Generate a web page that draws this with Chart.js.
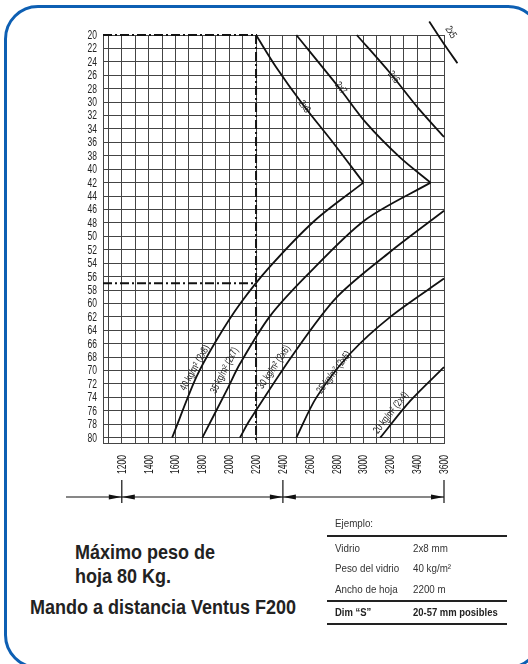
<!DOCTYPE html>
<html>
<head>
<meta charset="utf-8">
<script src="https://cdn.jsdelivr.net/npm/chart.js@4.4.0/dist/chart.umd.min.js"></script>
<style>
html,body{margin:0;padding:0;background:#fff;}
body{width:528px;height:664px;position:relative;overflow:hidden;font-family:'Liberation Sans',Arial,sans-serif;color:#222;}
#frame{position:absolute;left:4px;top:5px;width:538px;height:664px;border:3px solid #0d5fb3;border-radius:34px;box-sizing:border-box;}
#wrap{position:absolute;left:0;top:0;width:528px;height:520px;}
.big{position:absolute;font-weight:bold;font-size:20px;line-height:24px;white-space:nowrap;transform:scaleX(0.9);transform-origin:0 0;}
.cell{position:absolute;font-size:11px;color:#333;white-space:nowrap;line-height:14px;transform:scaleX(0.89);transform-origin:0 0;}
.rule{position:absolute;left:327px;width:180px;height:2px;background:#222;}
</style>
</head>
<body>
<div id="frame"></div>
<div id="wrap"><canvas id="chart"></canvas></div>

<div class="big" style="left:75px;top:540px;">Máximo peso de<br>hoja 80 Kg.</div>
<div class="big" style="left:30px;top:595px;">Mando a distancia Ventus F200</div>

<div class="cell" style="left:335px;top:516px;">Ejemplo:</div>
<div class="rule" style="top:535px;"></div>
<div class="cell" style="left:335px;top:541px;">Vidrio</div>
<div class="cell" style="left:413px;top:541px;">2x8 mm</div>
<div class="cell" style="left:335px;top:561px;">Peso del vidrio</div>
<div class="cell" style="left:413px;top:561px;">40 kg/m²</div>
<div class="cell" style="left:335px;top:582px;">Ancho de hoja</div>
<div class="cell" style="left:413px;top:582px;">2200 m</div>
<div class="rule" style="top:600px;"></div>
<div class="cell" style="left:335px;top:605px;font-weight:bold;color:#222;transform:scaleX(0.86);">Dim “S”</div>
<div class="cell" style="left:413px;top:605px;font-weight:bold;color:#222;transform:scaleX(0.86);">20-57 mm posibles</div>
<div class="rule" style="top:623px;"></div>

<script>
// ancho de hoja (mm) / dimension S (mm)
const xTicks = [1100,1200,1300,1400,1500,1600,1700,1800,1900,2000,2100,2200,2300,2400,2500,2600,2700,2800,2900,3000,3100,3200,3300,3400,3500,3600];
const xLabels = [1200,1400,1600,1800,2000,2200,2400,2600,2800,3000,3200,3400,3600];
const yTicks = [20,22,24,26,28,30,32,34,36,38,40,42,44,46,48,50,52,54,56,58,60,62,64,66,68,70,72,74,76,78,80];

// curvas superiores (vidrio)
const c2x8X = [2200, 2350, 2550, 2780, 3000];
const c2x8Y = [20, 24.8, 30.4, 36.2, 42];
const c2x7X = [2500, 2820, 3020, 3270, 3500];
const c2x7Y = [20, 27.9, 33.1, 38.2, 42];
const c2x6X = [2950, 3200, 3400, 3600];
const c2x6Y = [20, 25.7, 30.7, 35.2];
const c2x5X = [3490, 3595, 3700];
const c2x5Y = [18, 21.2, 24.2];

// curvas de peso
const k40X = [3000, 2640, 2300, 2080, 1905, 1755, 1575];
const k40Y = [42, 47.6, 54.6, 60.1, 65.5, 71, 80];
const k35X = [3500, 3010, 2580, 2300, 2080, 1985, 1800];
const k35Y = [42, 47.6, 55.8, 62, 69, 72.8, 80];
const k30X = [3600, 3200, 2800, 2480, 2150, 2080];
const k30Y = [46.2, 52.3, 59.1, 67.5, 77.5, 80];
const k25X = [3600, 3200, 2900, 2650, 2500];
const k25Y = [56.3, 62, 67.5, 74, 80];
const k20X = [3600, 3350, 3125];
const k20Y = [69.5, 74.5, 80];

// ejemplo: 2200 mm, S de 20 a 57
const exampleX = [1060, 2200, 2200];
const exampleY = [20, 20, 80.8];
const example57X = [1060, 2200];
const example57Y = [57, 57];

const dimMarks = [1200, 2400, 3600];

const labelText = ['2x8', '2x7', '2x6', '2x5', '40 kg/m² (2x8)', '35 kg/m² (2x7)', '30 kg/m² (2x6)', '25 kg/m² (2x5)', '20 kg/m² (2x4)'];
const labelX = [2560, 2830, 3225, 3650, 1745, 1965, 2335, 2780, 3205];
const labelY = [30.7, 27.9, 26.3, 19.6, 69.6, 70, 69.5, 70.3, 76.3];
const labelAngle = [53, 53, 52, 57, -61, -63, -56, -53, -52];

const FONT = "'Liberation Sans',Arial,sans-serif";
const NARROW = 0.68;

function pts(xs, ys){ return xs.map((x,i)=>({x:x, y:ys[i]})); }
function curve(xs, ys){
  return {data: pts(xs, ys), borderColor:'#111', borderWidth:1.8, pointRadius:0, tension:0.3, clip:false, fill:false};
}
// texto estrecho (la fuente original es condensada)
function narrowText(ctx, t, x, y, angle, sx){
  ctx.save();
  ctx.translate(x, y);
  ctx.rotate(angle*Math.PI/180);
  ctx.scale(sx, 1);
  ctx.fillText(t, 0, 0);
  ctx.restore();
}

const textPlugin = {
  id:'texts',
  afterDatasetsDraw(chart){
    const {ctx, chartArea, scales:{x, y}} = chart;
    ctx.save();
    ctx.fillStyle = '#222';
    ctx.font = '10.5px ' + FONT;
    ctx.textAlign = 'center';
    ctx.textBaseline = 'middle';
    labelText.forEach((t,i)=>{
      narrowText(ctx, t, x.getPixelForValue(labelX[i]), y.getPixelForValue(labelY[i]), labelAngle[i], 0.74);
    });
    ctx.font = '12.5px ' + FONT;
    ctx.textAlign = 'right';
    yTicks.forEach(v=>{
      narrowText(ctx, String(v), chartArea.left - 6, y.getPixelForValue(v) + 0.5, 0, NARROW);
    });
    xLabels.forEach(v=>{
      narrowText(ctx, String(v), x.getPixelForValue(v) + 0.5, chartArea.bottom + 12, -90, NARROW);
    });
    ctx.restore();
  }
};

const dimPlugin = {
  id:'dimLine',
  afterDraw(chart){
    const {ctx, scales:{x}} = chart;
    const yy = 497;
    ctx.save();
    ctx.strokeStyle = '#111';
    ctx.fillStyle = '#111';
    ctx.lineWidth = 1.2;
    ctx.beginPath();
    ctx.moveTo(66, yy);
    ctx.lineTo(x.getPixelForValue(dimMarks[dimMarks.length-1]), yy);
    ctx.stroke();
    dimMarks.forEach((v,i)=>{
      const px = x.getPixelForValue(v);
      ctx.beginPath();
      ctx.moveTo(px, 480); ctx.lineTo(px, 503);
      ctx.stroke();
      ctx.beginPath();
      ctx.moveTo(px, yy); ctx.lineTo(px-13, yy-2.5); ctx.lineTo(px-13, yy+2.5); ctx.closePath();
      ctx.fill();
      if(i < dimMarks.length-1){
        ctx.beginPath();
        ctx.moveTo(px, yy); ctx.lineTo(px+13, yy-2.5); ctx.lineTo(px+13, yy+2.5); ctx.closePath();
        ctx.fill();
      }
    });
    ctx.restore();
  }
};

new Chart(document.getElementById('chart'), {
  type:'line',
  data:{
    datasets:[
      curve(c2x8X, c2x8Y), curve(c2x7X, c2x7Y), curve(c2x6X, c2x6Y), curve(c2x5X, c2x5Y),
      curve(k40X, k40Y), curve(k35X, k35Y), curve(k30X, k30Y), curve(k25X, k25Y), curve(k20X, k20Y),
      {data: pts(exampleX, exampleY), borderColor:'#111', borderWidth:2, borderDash:[9,3,2,3], pointRadius:0, tension:0, clip:false},
      {data: pts(example57X, example57Y), borderColor:'#111', borderWidth:2, borderDash:[9,3,2,3], pointRadius:0, tension:0, clip:false}
    ]
  },
  options:{
    responsive:true,
    maintainAspectRatio:false,
    animation:false,
    events:[],
    layout:{padding:{left:71, top:35, right:84, bottom:37}},
    plugins:{legend:{display:false}, tooltip:{enabled:false}},
    scales:{
      x:{
        type:'linear', min:1060, max:3600,
        afterBuildTicks(s){ s.ticks = xTicks.map(v=>({value:v})); },
        afterFit(s){ s.height = 40; },
        grid:{color:'#444', lineWidth:1, drawTicks:false},
        border:{color:'#444', width:1},
        ticks:{display:false}
      },
      y:{
        type:'linear', reverse:true, min:20, max:80.8,
        afterBuildTicks(s){ s.ticks = yTicks.map(v=>({value:v})); },
        afterFit(s){ s.width = 32; },
        grid:{color:'#444', lineWidth:1, drawTicks:false},
        border:{color:'#444', width:1},
        ticks:{display:false}
      }
    }
  },
  plugins:[textPlugin, dimPlugin]
});
</script>
</body>
</html>
